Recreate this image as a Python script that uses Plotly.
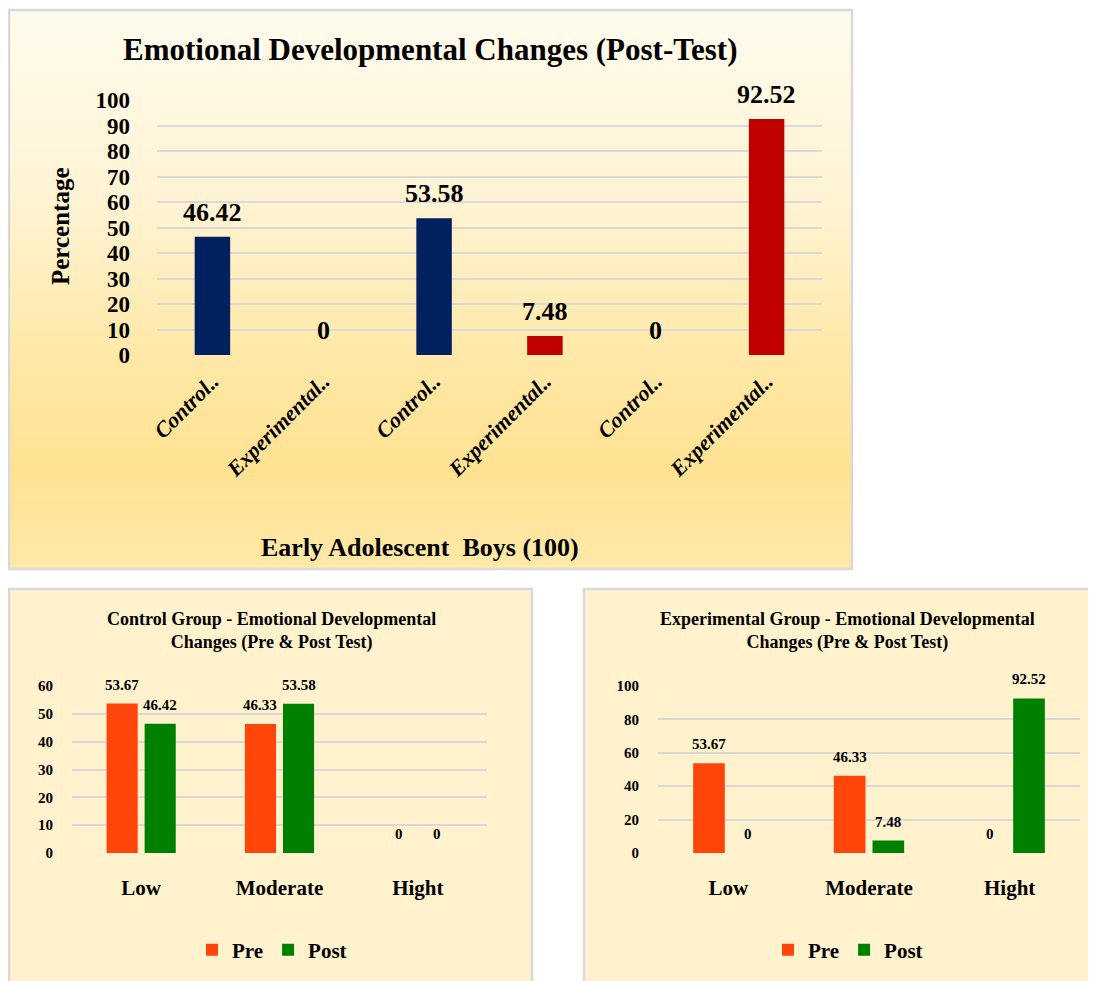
import plotly.graph_objects as go

# ---------------- data ----------------
top_labels = ["Control..", "Experimental..", "Control..", "Experimental..", "Control..", "Experimental.."]
top_groups = ["Control", "Experimental", "Control", "Experimental", "Control", "Experimental"]
top_values = [46.42, 0, 53.58, 7.48, 0, 92.52]

levels = ["Low", "Moderate", "Hight"]
control_pre = [53.67, 46.33, 0]
control_post = [46.42, 53.58, 0]
exp_pre = [53.67, 46.33, 0]
exp_post = [0, 7.48, 92.52]

top_title = "Emotional Developmental Changes (Post-Test)"
top_ytitle = "Percentage"
top_xtitle = "Early Adolescent \u00a0Boys (100)"
ctrl_title = "Control Group - Emotional Developmental<br>Changes (Pre & Post Test)"
exp_title = "Experimental Group - Emotional Developmental<br>Changes (Pre & Post Test)"

# ---------------- style ----------------
# the page body has an 8px margin; the figure is sized to fill the rest of the window
OX, OY = 8, 8
FW, FH = 1096 - OX, 981 - OY
FONT = "Liberation Serif, Times New Roman, serif"
GROUP_COLORS = {"Control": "#002060", "Experimental": "#C00000"}
PRE_COLOR = "#FF450A"
POST_COLOR = "#008000"
GRID = "#D9D9D9"


def px(x):
    return (x - OX) / FW


def py(y):
    return 1 - (y - OY) / FH


fig = go.Figure()

# top chart
top_x = list(range(len(top_values)))
fig.add_trace(go.Bar(
    x=top_x, y=top_values, width=0.32,
    marker=dict(color=[GROUP_COLORS[g] for g in top_groups], line=dict(width=0)),
    showlegend=False, xaxis="x", yaxis="y", hoverinfo="skip",
))

# bottom charts
lvl_x = list(range(len(levels)))
BW = 0.225
PRE_OFF = -0.25
POST_OFF = 0.025
fig.add_trace(go.Bar(x=lvl_x, y=control_pre, name="Pre", width=BW, offset=PRE_OFF,
                     marker=dict(color=PRE_COLOR, line=dict(width=0)), xaxis="x2", yaxis="y2",
                     legend="legend"))
fig.add_trace(go.Bar(x=lvl_x, y=control_post, name="Post", width=BW, offset=POST_OFF,
                     marker=dict(color=POST_COLOR, line=dict(width=0)), xaxis="x2", yaxis="y2",
                     legend="legend"))
fig.add_trace(go.Bar(x=lvl_x, y=exp_pre, name="Pre", width=BW, offset=PRE_OFF,
                     marker=dict(color=PRE_COLOR, line=dict(width=0)), xaxis="x3", yaxis="y3",
                     legend="legend2"))
fig.add_trace(go.Bar(x=lvl_x, y=exp_post, name="Post", width=BW, offset=POST_OFF,
                     marker=dict(color=POST_COLOR, line=dict(width=0)), xaxis="x3", yaxis="y3",
                     legend="legend2"))

annotations = []


def fmt(v):
    return f"{v:g}"


for xi, v in zip(top_x, top_values):
    annotations.append(dict(x=xi, y=v, xref="x", yref="y", text=fmt(v), showarrow=False,
                            xanchor="center", yanchor="bottom", yshift=8,
                            font=dict(family=FONT, size=26, color="black", weight="bold")))

for (xa, ya, pre, post) in [("x2", "y2", control_pre, control_post), ("x3", "y3", exp_pre, exp_post)]:
    for xi, v in zip(lvl_x, pre):
        annotations.append(dict(x=xi + PRE_OFF + BW / 2, y=v, xref=xa, yref=ya, text=fmt(v),
                                showarrow=False, xanchor="center", yanchor="bottom", yshift=9,
                                font=dict(family=FONT, size=15, color="black", weight="bold")))
    for xi, v in zip(lvl_x, post):
        annotations.append(dict(x=xi + POST_OFF + BW / 2, y=v, xref=xa, yref=ya, text=fmt(v),
                                showarrow=False, xanchor="center", yanchor="bottom", yshift=9,
                                font=dict(family=FONT, size=15, color="black", weight="bold")))


def paper_text(x, y, text, size, angle=0):
    return dict(x=px(x), y=py(y), xref="paper", yref="paper", text=text, showarrow=False,
                xanchor="center", yanchor="middle", textangle=angle,
                font=dict(family=FONT, size=size, color="black", weight="bold"))


annotations += [
    paper_text(430, 50, top_title, 31),
    paper_text(60, 226, top_ytitle, 25, -90),
    paper_text(420, 547, top_xtitle, 26),
    paper_text(271, 631, ctrl_title, 18),
    paper_text(847, 631, exp_title, 18),
]

# panel backgrounds
shapes = []
stops = [(0.0, (255, 251, 237)), (0.35, (255, 243, 210)), (0.6, (255, 233, 170)),
         (0.82, (255, 226, 145)), (1.0, (255, 233, 168))]


def grad_color(t):
    for (t0, c0), (t1, c1) in zip(stops[:-1], stops[1:]):
        if t0 <= t <= t1:
            f = (t - t0) / (t1 - t0) if t1 > t0 else 0
            c = [round(a + (b - a) * f) for a, b in zip(c0, c1)]
            return f"rgb({c[0]},{c[1]},{c[2]})"
    c = stops[-1][1]
    return f"rgb({c[0]},{c[1]},{c[2]})"


top_y0, top_y1 = 10, 569
N = 70
for i in range(N):
    a = top_y0 + (top_y1 - top_y0) * i / N
    b = top_y0 + (top_y1 - top_y0) * (i + 1) / N + 0.6
    shapes.append(dict(type="rect", xref="paper", yref="paper", x0=px(9), x1=px(852),
                       y0=py(b), y1=py(a), fillcolor=grad_color((i + 0.5) / N),
                       line=dict(width=0), layer="below"))
shapes.append(dict(type="rect", xref="paper", yref="paper", x0=px(9), x1=px(852),
                   y0=py(top_y1), y1=py(top_y0), fillcolor="rgba(0,0,0,0)",
                   line=dict(color=GRID, width=2.5), layer="below"))
for x0, x1 in [(9, 532), (584, 1100)]:
    shapes.append(dict(type="rect", xref="paper", yref="paper", x0=px(x0), x1=px(x1),
                       y0=py(990), y1=py(589), fillcolor="#FFF2CC",
                       line=dict(color=GRID, width=2.5), layer="below"))

tickfont_y_top = dict(family=FONT, size=23, color="black", weight="bold")
tickfont_y_bot = dict(family=FONT, size=15, color="black", weight="bold")
tickfont_x_bot = dict(family=FONT, size=21, color="black", weight="bold")
legend_font = dict(family=FONT, size=21, color="black", weight="bold")

common = dict(zeroline=False, showline=False, ticks="", automargin=False, fixedrange=True)

fig.update_layout(
    width=FW, height=FH,
    margin=dict(l=0, r=0, t=0, b=0, pad=0, autoexpand=False),
    paper_bgcolor="white", plot_bgcolor="rgba(0,0,0,0)",
    font=dict(family=FONT, color="black"),
    shapes=shapes,
    annotations=annotations,
    xaxis=dict(domain=[px(157), px(822)], range=[-0.5, len(top_values) - 0.5],
               tickvals=top_x, ticktext=top_labels, tickangle=-45, showgrid=False,
               ticklabelstandoff=8, anchor="y",
               tickfont=dict(family=FONT, size=22, color="black", weight="bold", style="italic"),
               **common),
    yaxis=dict(domain=[py(355), py(100)], range=[0, 100], dtick=10, showgrid=True,
               gridcolor=GRID, gridwidth=2, ticklabelstandoff=26, tickfont=tickfont_y_top,
               anchor="x", **common),
    xaxis2=dict(domain=[px(72), px(487)], range=[-0.5, 2.5], tickvals=lvl_x, ticktext=levels,
                showgrid=False, anchor="y2", ticklabelstandoff=20, tickfont=tickfont_x_bot, **common),
    yaxis2=dict(domain=[py(853), py(686)], range=[0, 60], dtick=10, showgrid=True,
                gridcolor=GRID, gridwidth=2, ticklabelstandoff=18, tickfont=tickfont_y_bot,
                anchor="x2", **common),
    xaxis3=dict(domain=[px(658), px(1080)], range=[-0.5, 2.5], tickvals=lvl_x, ticktext=levels,
                showgrid=False, anchor="y3", ticklabelstandoff=20, tickfont=tickfont_x_bot, **common),
    yaxis3=dict(domain=[py(853), py(686)], range=[0, 100], dtick=20, showgrid=True,
                gridcolor=GRID, gridwidth=2, ticklabelstandoff=18, tickfont=tickfont_y_bot,
                anchor="x3", **common),
    legend=dict(orientation="h", x=px(272), y=py(950), xanchor="center", yanchor="middle",
                bgcolor="rgba(0,0,0,0)", font=legend_font, itemwidth=30,
                itemclick=False, itemdoubleclick=False),
    legend2=dict(orientation="h", x=px(848), y=py(950), xanchor="center", yanchor="middle",
                 bgcolor="rgba(0,0,0,0)", font=legend_font, itemwidth=30,
                 itemclick=False, itemdoubleclick=False),
)

fig.write_html("out.html")
